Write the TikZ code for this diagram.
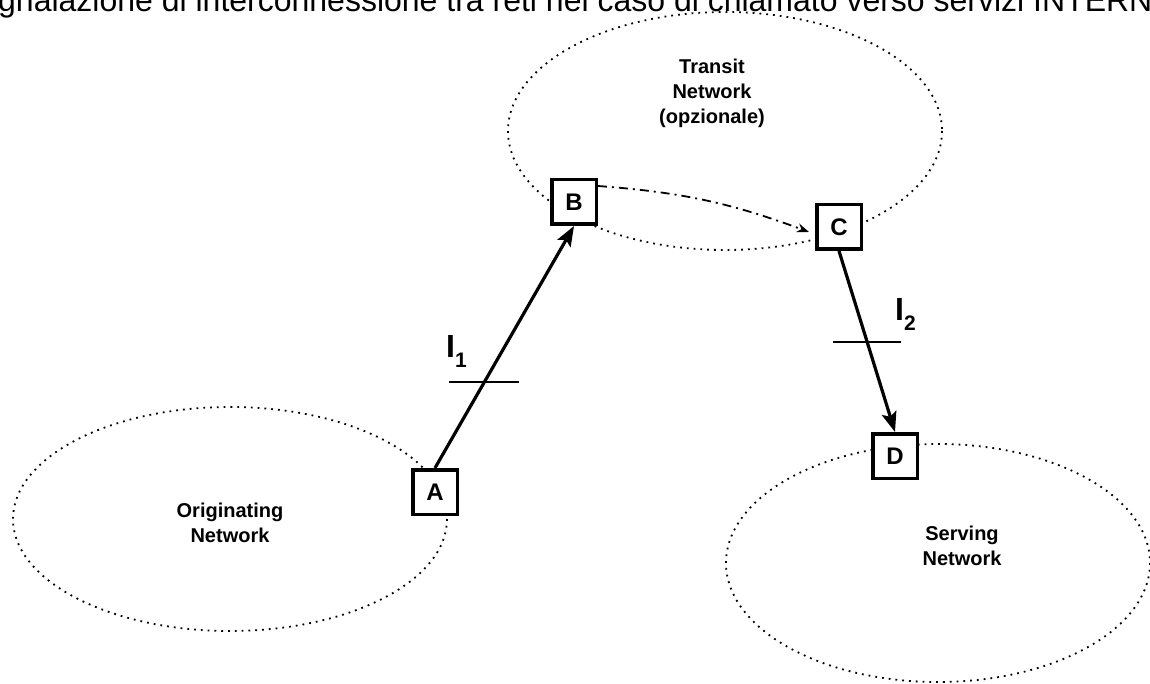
\documentclass[tikz,border=0pt]{standalone}
\usepackage{fontspec}
\setmainfont{Liberation Sans}
\usetikzlibrary{arrows.meta}
\begin{document}
\begin{tikzpicture}[x=1pt,y=-1pt,
  net/.style={draw=black, line width=1.8pt, dash pattern=on 1.8pt off 5pt},
  sw/.style={draw=black, fill=white, line width=3.5pt, minimum size=44.5pt, inner sep=0pt,
    font=\bfseries\fontsize{24}{24}\selectfont},
  lbl/.style={align=center, font=\bfseries\fontsize{20}{25}\selectfont, inner sep=0pt},
  link/.style={line width=3.2pt, -{Stealth[length=20pt,width=15pt,inset=4pt]}},
  tick/.style={line width=1.3pt},
  iname/.style={anchor=base west, inner sep=0pt, font=\bfseries\fontsize{32}{32}\selectfont}
]
\useasboundingbox (0,0) rectangle (1150,684);
\fill[white] (0,0) rectangle (1150,684);

% title (cut off by the page)
\node[anchor=base west, inner sep=0pt, font=\fontsize{32}{32}\selectfont] (title) at (-2,12)
  {gnalazione di interconnessione tra reti nel caso di chiamato verso servizi INTERNET};

% networks
\draw[net] (230,519) ellipse [x radius=217, y radius=112];
\draw[net] (938,563) ellipse [x radius=212, y radius=119];
\draw[net] (725,131) ellipse [x radius=217, y radius=119];

% (base anchor = baseline of the last line)
\node[lbl, anchor=base] (orig) at (230,542) {Originating\\Network};
\node[lbl, anchor=base] (serv) at (962,565) {Serving\\Network};
\node[lbl, anchor=base] (trans) at (712,124) {Transit\\Network\\(opzionale)};

% switches
\node[sw] (A) at (435,492) {A};
\node[sw] (B) at (574,202) {B};
\node[sw] (C) at (839,227) {C};
\node[sw] (D) at (895,456) {D};

% links
\draw[link] (A.north) -- (B.south) coordinate[pos=0.355] (t1);
\draw[link] (C.south) -- (D.north) coordinate[pos=0.503] (t2);
\draw[line width=1.8pt, dash pattern=on 9pt off 5pt on 2pt off 5pt,
      -{Stealth[length=12pt,width=9pt]}]
  ([yshift=16pt]B.east) to[bend left=8] ([xshift=-6pt,yshift=-5pt]C.west);

% interface ticks
\draw[tick] ([xshift=-35pt]t1) -- ([xshift=35pt]t1);
\draw[tick] ([xshift=-34pt]t2) -- ([xshift=34pt]t2);

\node[iname] (I1) at (446,357) {I\raisebox{-10pt}{\fontsize{21}{21}\selectfont 1}};
\node[iname] (I2) at (895,320) {I\raisebox{-10pt}{\fontsize{21}{21}\selectfont 2}};
\end{tikzpicture}
\end{document}
